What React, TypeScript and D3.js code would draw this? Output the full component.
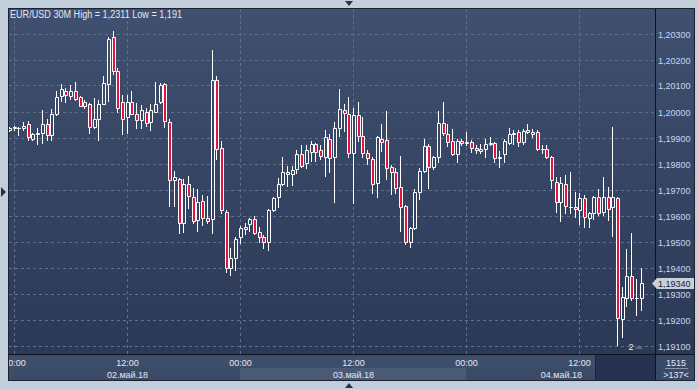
import React from 'react';
import * as d3 from 'd3';

// ---- data (30M EUR/USD candles, index 0 = 23:30 May 1) ----
const opens = [1.19929,1.19935,1.19937,1.19935,1.19952,1.19894,1.19913,1.19919,1.19952,1.19908,1.19989,1.20060,1.20077,1.20058,1.20079,1.20054,1.20023,1.20029,1.19939,1.19971,1.20029,1.20106,1.20285,1.20156,1.20037,1.19977,1.20037,1.19989,1.19969,1.20000,1.19958,1.20000,1.20035,1.20104,1.19958,1.19737,1.19742,1.19571,1.19723,1.19671,1.19583,1.19656,1.19590,1.19587,1.20121,1.19860,1.19613,1.19398,1.19437,1.19517,1.19550,1.19567,1.19587,1.19537,1.19517,1.19498,1.19621,1.19671,1.19721,1.19767,1.19760,1.19779,1.19837,1.19802,1.19844,1.19875,1.19852,1.19825,1.19894,1.19825,1.19937,1.20006,1.19990,1.19840,1.19987,1.19906,1.19840,1.19817,1.19725,1.19894,1.19890,1.19787,1.19767,1.19710,1.19637,1.19498,1.19552,1.19690,1.19771,1.19867,1.19787,1.19825,1.19956,1.19913,1.19887,1.19837,1.19887,1.19879,1.19883,1.19860,1.19848,1.19856,1.19875,1.19879,1.19821,1.19837,1.19879,1.19917,1.19921,1.19883,1.19921,1.19921,1.19921,1.19854,1.19856,1.19825,1.19729,1.19652,1.19721,1.19631,1.19633,1.19621,1.19667,1.19590,1.19610,1.19671,1.19613,1.19671,1.19633,1.19667,1.19202,1.19283,1.19367,1.19281,1.19283];
const highs = [1.19940,1.19944,1.19942,1.19958,1.19962,1.19917,1.19935,1.20004,1.19971,1.20008,1.20077,1.20106,1.20089,1.20100,1.20112,1.20060,1.20046,1.20031,1.20052,1.20044,1.20135,1.20288,1.20310,1.20167,1.20064,1.20065,1.20079,1.20031,1.20025,1.20015,1.20029,1.20112,1.20108,1.20110,1.19973,1.19773,1.19744,1.19740,1.19752,1.19706,1.19702,1.19679,1.19675,1.20237,1.20137,1.19885,1.19623,1.19475,1.19517,1.19560,1.19571,1.19590,1.19598,1.19556,1.19525,1.19625,1.19671,1.19744,1.19825,1.19790,1.19790,1.19852,1.19871,1.19871,1.19887,1.19879,1.19871,1.19929,1.19913,1.19960,1.20087,1.20029,1.20056,1.20013,1.20037,1.19979,1.19852,1.19825,1.19906,1.19952,1.20002,1.19794,1.19783,1.19829,1.19640,1.19556,1.19702,1.19783,1.19894,1.19875,1.19829,1.20002,1.20037,1.19952,1.19933,1.19894,1.19894,1.19921,1.19890,1.19871,1.19875,1.19894,1.19902,1.19883,1.19848,1.19894,1.19937,1.19929,1.19929,1.19933,1.19952,1.19933,1.19929,1.19871,1.19871,1.19829,1.19748,1.19748,1.19756,1.19767,1.19690,1.19687,1.19679,1.19613,1.19675,1.19702,1.19748,1.19710,1.19940,1.19671,1.19325,1.19471,1.19533,1.19356,1.19398];
const lows = [1.19925,1.19929,1.19910,1.19929,1.19892,1.19890,1.19875,1.19879,1.19890,1.19889,1.19987,1.20039,1.20035,1.20050,1.20044,1.20021,1.20015,1.19919,1.19937,1.19890,1.20027,1.20040,1.20146,1.19998,1.19912,1.19919,1.19990,1.19935,1.19935,1.19944,1.19927,1.19998,1.20033,1.19939,1.19635,1.19637,1.19533,1.19537,1.19629,1.19571,1.19540,1.19563,1.19571,1.19533,1.19817,1.19610,1.19383,1.19371,1.19390,1.19494,1.19529,1.19540,1.19529,1.19498,1.19475,1.19467,1.19617,1.19633,1.19717,1.19713,1.19717,1.19763,1.19787,1.19783,1.19810,1.19810,1.19817,1.19752,1.19767,1.19652,1.19906,1.19925,1.19825,1.19648,1.19887,1.19825,1.19798,1.19687,1.19671,1.19848,1.19740,1.19683,1.19687,1.19540,1.19490,1.19479,1.19548,1.19664,1.19767,1.19706,1.19779,1.19806,1.19910,1.19867,1.19833,1.19806,1.19871,1.19871,1.19844,1.19840,1.19840,1.19825,1.19871,1.19806,1.19787,1.19806,1.19875,1.19875,1.19867,1.19875,1.19917,1.19902,1.19852,1.19840,1.19821,1.19706,1.19613,1.19579,1.19610,1.19610,1.19594,1.19567,1.19556,1.19556,1.19587,1.19602,1.19602,1.19583,1.19521,1.19102,1.19133,1.19252,1.19275,1.19217,1.19237];
const closes = [1.19937,1.19940,1.19937,1.19944,1.19902,1.19912,1.19919,1.19952,1.19910,1.19989,1.20054,1.20085,1.20062,1.20079,1.20050,1.20023,1.20037,1.19942,1.19971,1.20029,1.20108,1.20277,1.20154,1.20012,1.19973,1.20037,1.19992,1.19969,1.20004,1.19954,1.20006,1.20027,1.20100,1.19962,1.19737,1.19750,1.19571,1.19723,1.19675,1.19579,1.19652,1.19590,1.19579,1.20121,1.19856,1.19621,1.19398,1.19437,1.19510,1.19552,1.19556,1.19587,1.19533,1.19517,1.19498,1.19621,1.19667,1.19721,1.19767,1.19758,1.19775,1.19837,1.19790,1.19852,1.19875,1.19844,1.19829,1.19902,1.19821,1.19937,1.20010,1.19994,1.19840,1.19987,1.19906,1.19840,1.19821,1.19721,1.19902,1.19883,1.19783,1.19767,1.19706,1.19633,1.19498,1.19552,1.19690,1.19771,1.19867,1.19787,1.19825,1.19956,1.19917,1.19883,1.19837,1.19887,1.19879,1.19881,1.19860,1.19852,1.19856,1.19875,1.19879,1.19821,1.19825,1.19887,1.19913,1.19912,1.19883,1.19925,1.19929,1.19913,1.19856,1.19856,1.19825,1.19737,1.19652,1.19725,1.19637,1.19633,1.19625,1.19667,1.19594,1.19610,1.19671,1.19610,1.19671,1.19625,1.19671,1.19206,1.19287,1.19367,1.19283,1.19283,1.19340];

const priceTicks = [1.191, 1.192, 1.193, 1.194, 1.195, 1.196, 1.197, 1.198, 1.199, 1.2, 1.201, 1.202, 1.203];
const timeTickIdx = [1, 25, 49, 73, 97, 121];
const timeTickLabels = ['00:00', '12:00', '00:00', '12:00', '00:00', '12:00'];
const dayStartIdx = [1, 49, 97];
const dateLabels = ['02.май.18', '03.май.18', '04.май.18'];
const dateLabelIdx = [25, 73, 121];
const titleText = 'EUR/USD 30M High = 1,2311 Low = 1,191';
const lastPrice = 1.1934;
const counterTop = '1515';
const counterBottom = '>137<';
const markerText = '2';

const FONT = "'Liberation Sans', Arial, sans-serif";

export default function App() {
  const W = 698, H = 389;
  const P = { left: 8, top: 8, right: 695, bottom: 381 };
  const plotR = 655; // price-axis separator
  const plotB = 354; // time-axis separator
  const x = d3.scaleLinear().domain([1, 121]).range([13.5, 579.3]);
  const y = d3.scaleLinear().domain([1.191, 1.203]).range([345.5, 33.5]);
  const fmt = (v: number) => d3.format('.5f')(v).replace('.', ',');
  const red = '#e3153f';

  const candles = opens.map((o, i) => {
    const c = closes[i];
    const up = c >= o;
    const px = Math.round(x(i));
    const top = Math.round(y(Math.max(o, c)));
    const bot = Math.round(y(Math.min(o, c)));
    const hi = Math.round(y(highs[i]));
    const lo = Math.round(y(lows[i]));
    return (
      <g key={i}>
        {hi < top && <line x1={px + 0.5} x2={px + 0.5} y1={hi} y2={top} stroke="#fff" />}
        {lo > bot && <line x1={px + 0.5} x2={px + 0.5} y1={bot} y2={lo + 1} stroke="#fff" />}
        <path
          d={`M${px - 0.5},${top + 0.5}h3v${bot - top}h-3z`}
          fill={up ? 'url(#bgGrad)' : red}
          stroke="#fff"
          strokeWidth={1}
        />
      </g>
    );
  });

  const lpY = Math.round(y(lastPrice));

  return (
    <svg width={W} height={H} style={{ position: 'absolute', left: 0, top: 0 }} fontFamily={FONT}>
      <defs>
        <linearGradient id="bgGrad" gradientUnits="userSpaceOnUse" x1="0" y1="9" x2="0" y2="354">
          <stop offset="0" stopColor="#405070" />
          <stop offset="1" stopColor="#2b3956" />
        </linearGradient>
        <clipPath id="plotClip">
          <rect x={P.left + 1} y={P.top + 1} width={plotR - P.left - 1} height={plotB - P.top - 1} />
        </clipPath>
      </defs>
      {/* outer frame */}
      <rect x={0} y={0} width={W} height={H} fill="#c3cedb" />
      <path d="M345,1 h8 l-4,5 z" fill="#2a3346" />
      <path d="M345,388 h8 l-4,-5 z" fill="#2a3346" />
      <path d="M1,187 v10 l5,-5 z" fill="#2a3346" />
      {/* panel */}
      <rect x={P.left} y={P.top} width={P.right - P.left} height={P.bottom - P.top} fill="#3a4966" />
      <rect x={P.left + 1} y={P.top + 1} width={plotR - P.left - 1} height={plotB - P.top - 1} fill="url(#bgGrad)" />
      <rect x={plotR + 1} y={P.top + 1} width={P.right - plotR - 1} height={plotB - P.top - 1} fill="url(#bgGrad)" />
      {/* time axis rows */}
      <rect x={P.left + 1} y={plotB + 1} width={plotR - P.left - 1} height={P.bottom - plotB - 1} fill="#3e4d69" />
      {dayStartIdx.map((d, k) => {
        const x0 = Math.max(P.left + 1, Math.round(x(d)));
        const x1 = k + 1 < dayStartIdx.length ? Math.round(x(dayStartIdx[k + 1])) : 595;
        return (
          <rect key={d} x={x0} y={368} width={x1 - x0} height={P.bottom - 368} fill={k === 1 ? '#4a5974' : '#3b4a66'} />
        );
      })}
      <rect x={595} y={plotB + 1} width={plotR - 595} height={P.bottom - plotB - 1} fill="#263250" />
      <line x1={595.5} x2={595.5} y1={plotB + 1} y2={P.bottom} stroke="#1c2538" />
      <rect x={plotR + 1} y={plotB + 1} width={P.right - plotR - 1} height={P.bottom - plotB - 1} fill="#3a4966" />

      {/* grid */}
      <g clipPath="url(#plotClip)">
        {priceTicks.map((t) => (
          <line key={t} x1={P.left + 1} x2={plotR} y1={Math.round(y(t)) + 0.5} y2={Math.round(y(t)) + 0.5}
            stroke="#5f6f8c" strokeDasharray="3,3" />
        ))}
        {timeTickIdx.map((t) => (
          <line key={t} x1={Math.round(x(t)) + 0.5} x2={Math.round(x(t)) + 0.5} y1={P.top + 1} y2={plotB}
            stroke="#5f6f8c" strokeDasharray="3,3" />
        ))}
        {candles}
      </g>

      {/* separators & border */}
      <line x1={plotR + 0.5} x2={plotR + 0.5} y1={P.top} y2={P.bottom} stroke="#0d1320" />
      <line x1={P.left} x2={P.right} y1={plotB + 0.5} y2={plotB + 0.5} stroke="#0d1320" />
      <rect x={P.left + 0.5} y={P.top + 0.5} width={P.right - P.left - 1} height={P.bottom - P.top - 1} fill="none" stroke="#1a2233" />

      {/* title */}
      <text x={10} y={18} fontSize={10} fill="#e4e8ef" textLength={172} lengthAdjust="spacingAndGlyphs">{titleText}</text>

      {/* price labels */}
      {priceTicks.map((t) => (
        <text key={t} x={658} y={Math.round(y(t)) + 3.5} fontSize={9} fill="#c8d5ee">{fmt(t)}</text>
      ))}
      {/* last price tag */}
      <path d={`M652,${lpY + 0.5} l5,-5.5 h37 v11 h-37 z`} fill="#c9d0da" />
      <text x={658} y={lpY + 4} fontSize={9} fill="#1c2433">{fmt(lastPrice)}</text>

      {/* time labels */}
      <g clipPath="url(#axisClip)">
        {timeTickIdx.map((t, k) => (
          <text key={t} x={Math.round(x(t)) + 0.5} y={366} fontSize={9} fill="#e2e8f2" textAnchor="middle">{timeTickLabels[k]}</text>
        ))}
      </g>
      <defs>
        <clipPath id="axisClip">
          <rect x={P.left + 1} y={plotB + 1} width={plotR - P.left - 1} height={P.bottom - plotB - 1} />
        </clipPath>
      </defs>
      {dateLabels.map((d, k) => (
        <text key={d} x={k === 2 ? 582 : Math.round(x(dateLabelIdx[k])) + 0.5} y={377.5} fontSize={9} fill="#e2e8f2"
          textAnchor={k === 2 ? 'end' : 'middle'}>{d}</text>
      ))}

      {/* marker near bottom */}
      <text x={631} y={350} fontSize={9} fill="#e6ebf3" textAnchor="middle">{markerText}</text>
      <path d="M635,349 l4,-4 l4,4 z" fill="#5d6b84" />

      {/* counters bottom right */}
      <text x={676} y={365.5} fontSize={9} fill="#e2e8f2" textAnchor="middle">{counterTop}</text>
      <line x1={665} x2={688} y1={368.5} y2={368.5} stroke="#8d98ad" />
      <text x={676} y={378} fontSize={9} fill="#e2e8f2" textAnchor="middle">{counterBottom}</text>
    </svg>
  );
}
